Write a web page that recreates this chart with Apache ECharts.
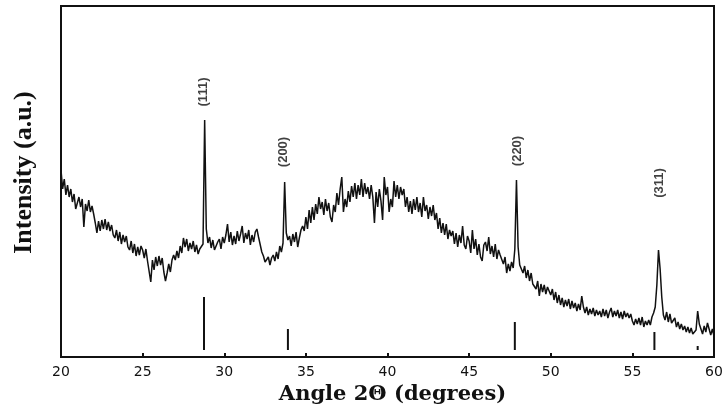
<!DOCTYPE html>
<html>
<head>
<meta charset="utf-8">
<script src="https://cdn.jsdelivr.net/npm/echarts@6/dist/echarts.min.js"></script>
<style>
  html, body { margin: 0; padding: 0; background: #fff; }
  #chart { width: 724px; height: 412px; }
</style>
</head>
<body>
<div id="chart"></div>
<script>
// scan: 20.0 .. 60.0 deg, step 0.1
const scanStart = 20;
const scanStep = 0.1;

// intensity (a.u.), ten readings per degree
const intensity = [
  187, 168, 178, 162, 172, 160, 168, 155, 163, 148,   // 20
  147, 160, 150, 158, 130, 153, 146, 157, 145, 151,   // 21
  143, 134, 124, 136, 126, 137, 128, 138, 127, 135,   // 22
  126, 132, 122, 119, 127, 116, 125, 113, 122, 115,   // 23
  121, 110, 107, 116, 104, 113, 101, 110, 102, 111,   // 24
  107, 99, 108, 96, 94, 75, 97, 87, 100, 91,          // 25
  101, 92, 99, 85, 76, 84, 93, 85, 97, 102,           // 26
  97, 106, 99, 111, 104, 119, 110, 118, 106, 114,     // 27
  108, 116, 105, 112, 103, 108, 110, 113, 237, 128,   // 28
  114, 120, 109, 117, 107, 108, 115, 118, 108, 120,   // 29
  114, 122, 133, 115, 125, 112, 121, 113, 126, 116,   // 30
  123, 131, 114, 124, 118, 127, 112, 122, 115, 125,   // 31
  128, 120, 118, 105, 101, 95, 94, 100, 92, 99,       // 32
  102, 96, 105, 98, 111, 105, 114, 175, 124, 117,     // 33
  121, 111, 123, 115, 125, 110, 119, 127, 131, 126,   // 34
  140, 128, 147, 134, 150, 137, 153, 143, 160, 148,   // 35
  155, 142, 158, 146, 154, 140, 135, 152, 145, 164,   // 36
  152, 168, 180, 145, 158, 150, 166, 155, 171, 160,   // 37
  174, 158, 172, 162, 178, 160, 174, 163, 170, 158,   // 38
  172, 160, 134, 165, 150, 168, 156, 137, 180, 162,   // 39
  170, 145, 158, 150, 176, 160, 172, 158, 170, 162,   // 40
  168, 150, 160, 145, 156, 143, 158, 147, 160, 145,   // 41
  154, 140, 160, 146, 152, 138, 150, 141, 152, 137,   // 42
  144, 128, 139, 124, 134, 122, 133, 118, 127, 121,   // 43
  126, 113, 124, 110, 122, 114, 131, 112, 108, 121,   // 44
  116, 104, 127, 108, 118, 102, 113, 100, 96, 112,    // 45
  115, 106, 120, 103, 111, 100, 113, 98, 107, 102,    // 46
  104, 93, 100, 84, 93, 86, 95, 89, 108, 177,         // 47
  110, 92, 88, 84, 91, 79, 87, 76, 84, 73,            // 48
  75, 68, 76, 61, 73, 65, 72, 63, 70, 71,             // 49
  62, 68, 57, 65, 54, 62, 52, 59, 50, 57,             // 50
  51, 58, 48, 56, 49, 54, 46, 53, 47, 61,             // 51
  50, 44, 50, 42, 48, 43, 49, 41, 47, 42,             // 52
  46, 40, 48, 41, 47, 39, 45, 49, 40, 46,             // 53
  41, 47, 39, 45, 38, 46, 40, 44, 39, 43,             // 54
  36, 32, 38, 33, 39, 32, 40, 30, 36, 32,             // 55
  37, 32, 40, 44, 50, 72, 107, 88, 60, 42,            // 56
  37, 45, 35, 43, 34, 32, 39, 30, 35, 28,             // 57
  33, 27, 31, 25, 30, 24, 29, 23, 21, 27,             // 58
  46, 33, 28, 23, 31, 25, 34, 36, 22, 28,             // 59
  21                                                  // 60
];

// reference pattern sticks
const stickAngles = [28.76, 33.9, 47.8, 56.35, 59.0];
const stickHeights = [60, 28, 35, 25, 11];
const stickBase = 7;

// reflection labels
const peakNames = ['(111)', '(200)', '(220)', '(311)'];
const peakAngles = [28.75, 33.65, 47.95, 56.65];
const peakLabelLevel = [265, 205, 206, 174];

const xTicks = [20, 25, 30, 35, 40, 45, 50, 55, 60];

const scan = intensity.map((v, i) => [Math.round((scanStart + i * scanStep) * 10) / 10, v]);

const chart = echarts.init(document.getElementById('chart'));

chart.setOption({
    animation: false,
    grid: {
        left: 61,
        right: 10,
        top: 6,
        bottom: 55,
        show: true,
        borderColor: '#111',
        borderWidth: 2,
        outerBoundsMode: 'none'
    },
    xAxis: {
        type: 'value',
        min: xTicks[0],
        max: xTicks[xTicks.length - 1],
        interval: 5,
        name: 'Angle 2Θ (degrees)',
        nameLocation: 'middle',
        nameGap: 24,
        nameTextStyle: {
            fontFamily: 'DejaVu Serif',
            fontWeight: 'bold',
            fontSize: 21,
            color: '#111',
            padding: [0, 0, 0, 10]
        },
        axisLine: { show: true, lineStyle: { color: '#111', width: 2 } },
        axisTick: { show: true, inside: true, length: 4, lineStyle: { color: '#111', width: 2 } },
        axisLabel: {
            margin: 8,
            fontFamily: 'DejaVu Sans',
            fontSize: 14,
            color: '#111'
        },
        splitLine: { show: false }
    },
    yAxis: {
        type: 'value',
        min: 0,
        max: 351,
        name: 'Intensity (a.u.)',
        nameLocation: 'middle',
        nameGap: 24,
        nameTextStyle: {
            fontFamily: 'Liberation Serif',
            fontWeight: 'bold',
            fontSize: 26,
            color: '#111',
            padding: [0, 0, 0, 18]
        },
        axisLine: { show: true, lineStyle: { color: '#111', width: 2 } },
        axisTick: { show: false },
        axisLabel: { show: false },
        splitLine: { show: false }
    },
    series: [{
        name: 'scan',
        type: 'line',
        data: scan,
        showSymbol: false,
        lineStyle: { color: '#111', width: 1.5 },
        z: 3
    }, {
        name: 'sticks',
        type: 'custom',
        data: stickAngles.map((a, i) => [a, stickHeights[i]]),
        encode: { x: 0, y: 1 },
        renderItem: function (params, api) {
            const p0 = api.coord([api.value(0), stickBase]);
            const p1 = api.coord([api.value(0), api.value(1)]);
            return {
                type: 'line',
                shape: { x1: p0[0], y1: p0[1], x2: p1[0], y2: p1[1] },
                style: { stroke: '#111', lineWidth: 2 }
            };
        }
    }, {
        name: 'labels',
        type: 'scatter',
        symbolSize: 1,
        itemStyle: { color: 'rgba(0,0,0,0)' },
        data: peakNames.map((n, i) => ({ name: n, value: [peakAngles[i], peakLabelLevel[i]] })),
        label: {
            show: true,
            position: 'inside',
            formatter: '{b}',
            rotate: 90,
            fontFamily: 'Liberation Sans',
            fontWeight: 'bold',
            fontSize: 13,
            color: '#111'
        }
    }]
});
</script>
</body>
</html>
